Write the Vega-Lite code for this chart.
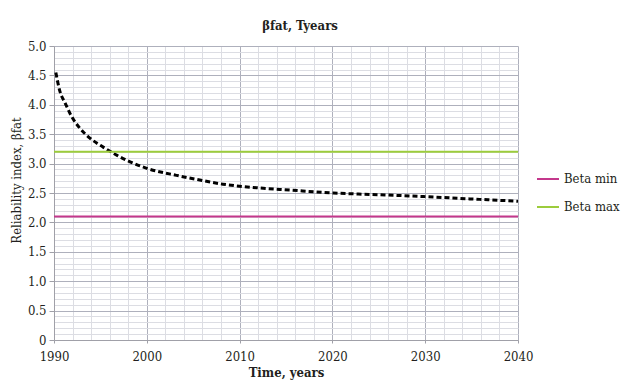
{
  "$schema": "https://vega.github.io/schema/vega-lite/v6.json",
  "width": 464,
  "height": 294,
  "autosize": {"type": "none"},
  "padding": {"left": 54, "top": 46, "right": 106, "bottom": 42},
  "background": "white",
  "title": {"text": "βfat, Tyears", "font": "DejaVu Serif Condensed, DejaVu Serif", "fontSize": 13, "fontWeight": "bold", "color": "#231f20", "offset": 7, "dx": 14},
  "config": {"font": "DejaVu Serif Condensed, DejaVu Serif", "view": {"stroke": null}},
  "datasets": {
    "curve": [
      {"year": 1990.2, "beta": 4.55},
      {"year": 1990.6, "beta": 4.25},
      {"year": 1991.2, "beta": 4.03},
      {"year": 1991.9, "beta": 3.80},
      {"year": 1992.8, "beta": 3.60},
      {"year": 1993.9, "beta": 3.43},
      {"year": 1995.3, "beta": 3.28},
      {"year": 1996.8, "beta": 3.14},
      {"year": 1998.2, "beta": 3.03},
      {"year": 2000.0, "beta": 2.92},
      {"year": 2003.2, "beta": 2.80},
      {"year": 2005.4, "beta": 2.73},
      {"year": 2008.2, "beta": 2.65},
      {"year": 2011.8, "beta": 2.59},
      {"year": 2015.4, "beta": 2.55},
      {"year": 2020.1, "beta": 2.50},
      {"year": 2025.1, "beta": 2.47},
      {"year": 2029.8, "beta": 2.44},
      {"year": 2034.8, "beta": 2.40},
      {"year": 2040.0, "beta": 2.36}
    ],
    "limits": [
      {"series": "Beta min", "beta": 2.1},
      {"series": "Beta max", "beta": 3.2}
    ]
  },
  "encoding": {
    "y": {
      "field": "beta", "type": "quantitative",
      "scale": {"domain": [0, 5], "nice": false},
      "axis": {
        "title": "Reliability index, βfat",
        "titleFont": "DejaVu Serif Condensed, DejaVu Serif", "titleFontSize": 13, "titleFontWeight": "normal", "titleColor": "#231f20",
        "titleX": -31, "titleY": 134,
        "values": [0,0.1,0.2,0.3,0.4,0.5,0.6,0.7,0.8,0.9,1,1.1,1.2,1.3,1.4,1.5,1.6,1.7,1.8,1.9,2,2.1,2.2,2.3,2.4,2.5,2.6,2.7,2.8,2.9,3,3.1,3.2,3.3,3.4,3.5,3.6,3.7,3.8,3.9,4,4.1,4.2,4.3,4.4,4.5,4.6,4.7,4.8,4.9,5],
        "labelExpr": "abs(datum.value*2 - round(datum.value*2)) < 0.001 ? (datum.value == 0 ? '0' : format(datum.value, '.1f')) : ''",
        "labelFont": "DejaVu Serif Condensed, DejaVu Serif", "labelFontSize": 13, "labelColor": "#231f20", "labelPadding": 3,
        "labelOverlap": false, "labelFlush": false,
        "domainColor": "#a0a0a8",
        "tickSize": 5,
        "tickColor": {"condition": {"test": "abs(datum.value*2 - round(datum.value*2)) < 0.001", "value": "#a0a0a8"}, "value": "transparent"},
        "grid": true,
        "gridColor": {"condition": {"test": "abs(datum.value*2 - round(datum.value*2)) < 0.001", "value": "#aeb0bc"}, "value": "#dcdde3"},
        "gridWidth": 1
      }
    }
  },
  "layer": [
    {
      "data": {"name": "curve"},
      "mark": {"type": "line", "color": "#000000", "strokeWidth": 3, "strokeDash": [5, 3], "interpolate": "monotone"},
      "encoding": {
        "x": {
          "field": "year", "type": "quantitative",
          "scale": {"domain": [1990, 2040], "nice": false, "zero": false},
          "axis": {
            "title": "Time, years",
            "titleFont": "DejaVu Serif Condensed, DejaVu Serif", "titleFontSize": 13, "titleFontWeight": "bold", "titleColor": "#231f20", "titlePadding": 3,
            "values": [1990,1992,1994,1996,1998,2000,2002,2004,2006,2008,2010,2012,2014,2016,2018,2020,2022,2024,2026,2028,2030,2032,2034,2036,2038,2040],
            "format": "d",
            "labelExpr": "datum.value % 10 === 0 ? datum.label : ''",
            "labelFont": "DejaVu Serif Condensed, DejaVu Serif", "labelFontSize": 13, "labelColor": "#231f20", "labelPadding": 7,
            "labelOverlap": false, "labelFlush": false,
            "domainColor": "#a0a0a8",
            "tickSize": 3,
            "tickColor": {"condition": {"test": "datum.value % 10 === 0", "value": "#a0a0a8"}, "value": "transparent"},
            "grid": true,
            "gridColor": {"condition": {"test": "datum.value % 10 === 0", "value": "#aeb0bc"}, "value": "#dcdde3"},
            "gridWidth": 1
          }
        }
      }
    },
    {
      "data": {"name": "limits"},
      "mark": {"type": "rule", "strokeWidth": 2},
      "encoding": {
        "color": {
          "field": "series", "type": "nominal",
          "scale": {"domain": ["Beta min", "Beta max"], "range": ["#c4388c", "#9ccc3c"]},
          "legend": {
            "orient": "none", "legendX": 482, "legendY": 121,
            "title": null,
            "symbolType": "stroke", "symbolSize": 484, "symbolStrokeWidth": 2,
            "labelFont": "DejaVu Serif Condensed, DejaVu Serif", "labelFontSize": 13, "labelColor": "#231f20",
            "labelOffset": 4, "rowPadding": 9
          }
        }
      }
    }
  ]
}
